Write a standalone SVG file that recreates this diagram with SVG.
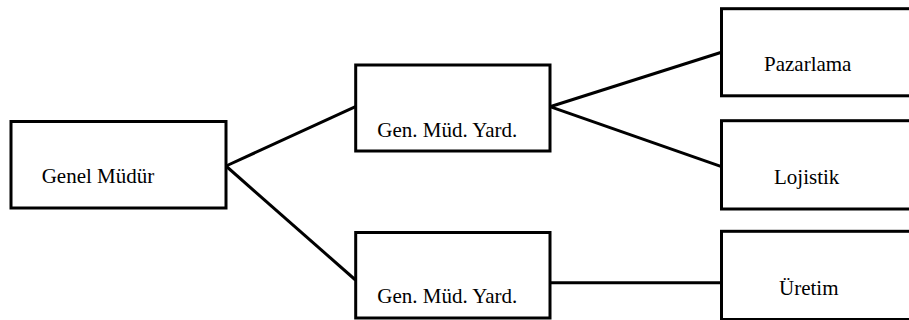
<svg xmlns="http://www.w3.org/2000/svg" width="909" height="320" viewBox="0 0 909 320">
<style>
.box{fill:#fff;stroke:#000;stroke-width:3}
.lbl{font-family:'Liberation Serif','Times New Roman',serif;font-size:21px;fill:#000}
.con{stroke:#000;stroke-width:3;fill:none}
</style>
<rect width="909" height="320" fill="#fff"/>
<g id="connectors">
<line class="con" x1="226" y1="166" x2="355.5" y2="106.7"/>
<line class="con" x1="226" y1="166" x2="355.5" y2="280"/>
<line class="con" x1="550" y1="106.7" x2="721.5" y2="52.3"/>
<line class="con" x1="550" y1="106.7" x2="721.5" y2="166.7"/>
<line class="con" x1="550" y1="282.7" x2="721.5" y2="282.7"/>
</g>
<g id="genel-mudur">
<rect class="box" x="11" y="121.5" width="215" height="86.5"/>
<text class="lbl" x="41.7" y="183.3">Genel Müdür</text>
</g>
<g id="gmy-top">
<rect class="box" x="355.7" y="65" width="194.3" height="86"/>
<text class="lbl" x="377.3" y="136.7">Gen. Müd. Yard.</text>
</g>
<g id="gmy-bottom">
<rect class="box" x="355.7" y="232.5" width="194.3" height="85.5"/>
<text class="lbl" x="377.3" y="303.3">Gen. Müd. Yard.</text>
</g>
<g id="pazarlama">
<rect class="box" x="721.5" y="8.7" width="200" height="87.1"/>
<text class="lbl" x="764" y="71">Pazarlama</text>
</g>
<g id="lojistik">
<rect class="box" x="721.5" y="120.7" width="200" height="88.3"/>
<text class="lbl" x="774" y="184">Lojistik</text>
</g>
<g id="uretim">
<rect class="box" x="721.5" y="231.3" width="200" height="88.2"/>
<text class="lbl" x="779" y="294.7">Üretim</text>
</g>
</svg>
